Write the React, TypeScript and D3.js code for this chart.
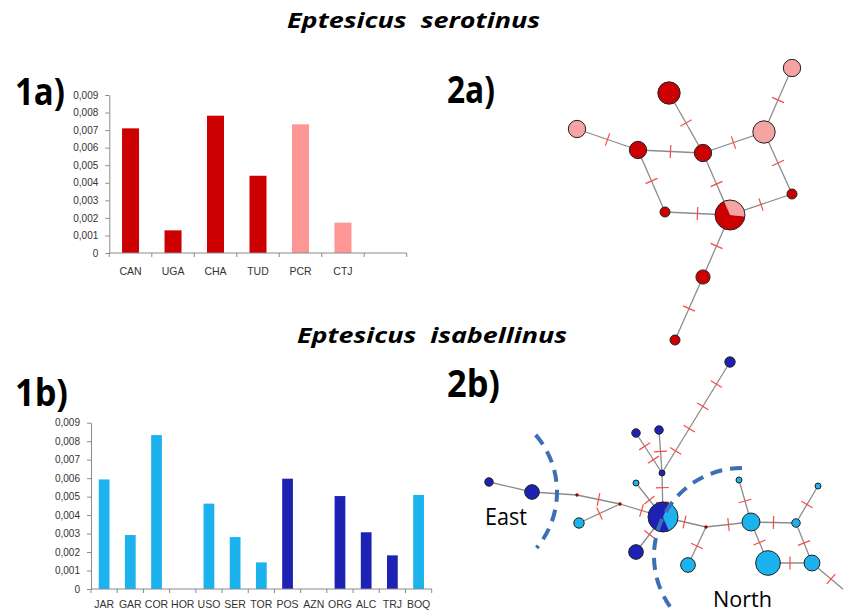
import React, { useEffect, useRef } from 'react';
import * as d3 from 'd3';

// nucleotide diversity per site
const serotinusSites = ['CAN', 'UGA', 'CHA', 'TUD', 'PCR', 'CTJ', ''];
const serotinusDiversity = [0.0071, 0.00129, 0.00782, 0.0044, 0.00733, 0.00173, 0];
const serotinusGroup = ['dark', 'dark', 'dark', 'dark', 'light', 'light', 'none'];

const isabellinusSites = ['JAR', 'GAR', 'COR', 'HOR', 'USO', 'SER', 'TOR', 'POS', 'AZN', 'ORG', 'ALC', 'TRJ', 'BOQ'];
const isabellinusDiversity = [0.00593, 0.00292, 0.00833, 0, 0.00462, 0.00281, 0.00144, 0.00597, 0, 0.00503, 0.00307, 0.00182, 0.00509];
const isabellinusGroup = ['light', 'light', 'light', 'light', 'light', 'light', 'light', 'dark', 'dark', 'dark', 'dark', 'dark', 'light'];

const yTicks = [0, 0.001, 0.002, 0.003, 0.004, 0.005, 0.006, 0.007, 0.008, 0.009];

// haplotype networks: layout units, haplotype counts (dark / light group)
const serotinusNodes = [
  { id: 'A', x: 252, y: 18, dark: 0, light: 3 },
  { id: 'B', x: 129, y: 43, dark: 5, light: 0 },
  { id: 'C', x: 37, y: 79, dark: 0, light: 3 },
  { id: 'D', x: 224, y: 82, dark: 0, light: 5 },
  { id: 'E', x: 98, y: 100, dark: 3, light: 0 },
  { id: 'F', x: 163, y: 103, dark: 3, light: 0 },
  { id: 'G', x: 125, y: 162, dark: 1, light: 0 },
  { id: 'H', x: 252, y: 144, dark: 1, light: 0 },
  { id: 'P', x: 190, y: 165, dark: 6, light: 3 },
  { id: 'L', x: 163, y: 227, dark: 2, light: 0 },
  { id: 'M', x: 135, y: 290, dark: 1, light: 0 },
];
// [from, to, mutation steps]
const serotinusEdges: [string, string, number][] = [
  ['A', 'D', 1], ['B', 'F', 1], ['C', 'E', 1], ['E', 'F', 1], ['F', 'D', 1], ['E', 'G', 1],
  ['F', 'P', 1], ['D', 'H', 1], ['G', 'P', 1], ['P', 'H', 1], ['P', 'L', 1], ['L', 'M', 1],
];

const isabellinusNodes = [
  { id: 'a', x: 260, y: 12, dark: 3, light: 0 },
  { id: 'b', x: 166, y: 83, dark: 2, light: 0 },
  { id: 'c', x: 189, y: 80, dark: 2, light: 0 },
  { id: 'd', x: 192, y: 123, dark: 1, light: 0 },
  { id: 'e', x: 166, y: 133, dark: 0, light: 1 },
  { id: 'f', x: 19, y: 132, dark: 2, light: 0 },
  { id: 'g', x: 62, y: 142, dark: 6, light: 0 },
  { id: 'm1', x: 107, y: 145, dark: 0, light: 0 },
  { id: 'm2', x: 150, y: 154, dark: 0, light: 0 },
  { id: 'h', x: 109, y: 173, dark: 0, light: 3 },
  { id: 'P', x: 193, y: 167, dark: 16, light: 9 },
  { id: 'i', x: 166, y: 202, dark: 6, light: 0 },
  { id: 'm3', x: 236, y: 177, dark: 0, light: 0 },
  { id: 'j', x: 218, y: 215, dark: 0, light: 6 },
  { id: 'k', x: 281, y: 172, dark: 0, light: 9 },
  { id: 'l', x: 269, y: 130, dark: 0, light: 1 },
  { id: 'n', x: 326, y: 173, dark: 0, light: 2 },
  { id: 'o', x: 348, y: 136, dark: 0, light: 1 },
  { id: 'q', x: 298, y: 213, dark: 0, light: 17 },
  { id: 'r', x: 342, y: 213, dark: 0, light: 7 },
  { id: 's', x: 380, y: 245, dark: 0, light: 1 },
];
const isabellinusEdges: [string, string, number][] = [
  ['f', 'g', 0], ['g', 'm1', 0], ['m1', 'm2', 1], ['h', 'm2', 1], ['m2', 'P', 1],
  ['e', 'P', 1], ['d', 'P', 2], ['b', 'd', 2], ['c', 'd', 1], ['a', 'd', 4],
  ['i', 'P', 1], ['P', 'm3', 1], ['m3', 'j', 1], ['m3', 'k', 1], ['k', 'l', 1],
  ['k', 'n', 1], ['n', 'o', 1], ['n', 'r', 1], ['k', 'q', 1], ['q', 'r', 1], ['r', 's', 1],
];

const W = 843;
const H = 614;
const FONT = 'Liberation Sans, Arial, sans-serif';
const TITLE_FONT = 'Open Sans, Liberation Sans, sans-serif';

type Node = { id: string; x: number; y: number; dark: number; light: number };

const fmt = (d: number) => (d === 0 ? '0' : d3.format('.3f')(d).replace('.', ','));

function drawBars(
  svg: d3.Selection<SVGSVGElement, unknown, null, undefined>,
  sites: string[],
  values: number[],
  groups: string[],
  colors: Record<string, string>,
  box: { left: number; right: number; top: number; bottom: number; barFrac: number; labelY: number; fs: number }
) {
  const g = svg.append('g');
  const x = d3
    .scaleBand<number>()
    .domain(sites.map((_, i) => i))
    .range([box.left, box.right])
    .padding(0);
  const y = d3.scaleLinear().domain([0, 0.009]).range([box.bottom, box.top]);
  const bw = x.bandwidth() * box.barFrac;

  g.selectAll('rect.bar')
    .data(values)
    .enter()
    .append('rect')
    .attr('class', 'bar')
    .attr('x', (_, i) => (x(i) || 0) + (x.bandwidth() - bw) / 2)
    .attr('y', (d) => y(d))
    .attr('width', bw)
    .attr('height', (d) => box.bottom - y(d))
    .attr('fill', (_, i) => colors[groups[i]] || 'none');

  const ya = g
    .append('g')
    .attr('transform', `translate(${box.left},0)`)
    .call(d3.axisLeft(y).tickValues(yTicks).tickSize(4).tickSizeOuter(0).tickPadding(7).tickFormat((d) => fmt(+d)));
  ya.attr('font-family', FONT).attr('font-size', 10);
  ya.selectAll('line,path').attr('stroke', '#8a8a8a');
  ya.selectAll('text').attr('fill', '#333');

  // category axis: boundary ticks pointing down
  g.append('line')
    .attr('x1', box.left)
    .attr('x2', box.right)
    .attr('y1', box.bottom)
    .attr('y2', box.bottom)
    .attr('stroke', '#8a8a8a');
  const bounds = sites.map((_, i) => x(i) || 0).concat([box.right]);
  g.selectAll('line.xt')
    .data(bounds)
    .enter()
    .append('line')
    .attr('class', 'xt')
    .attr('x1', (d) => d)
    .attr('x2', (d) => d)
    .attr('y1', box.bottom)
    .attr('y2', box.bottom + 4)
    .attr('stroke', '#8a8a8a');
  g.selectAll('text.xl')
    .data(sites)
    .enter()
    .append('text')
    .attr('class', 'xl')
    .attr('x', (_, i) => (x(i) || 0) + x.bandwidth() / 2)
    .attr('y', box.labelY)
    .attr('text-anchor', 'middle')
    .attr('font-family', FONT)
    .attr('font-size', box.fs)
    .attr('fill', '#333')
    .text((d) => d);
}

function drawNetwork(
  svg: d3.Selection<SVGSVGElement, unknown, null, undefined>,
  nodes: Node[],
  edges: [string, string, number][],
  colors: { dark: string; light: string; median: string },
  sx: d3.ScaleLinear<number, number>,
  sy: d3.ScaleLinear<number, number>,
  rScale: d3.ScalePower<number, number>,
  pieStart: number
) {
  const byId = new Map(nodes.map((n) => [n.id, n]));
  const eg = svg.append('g');
  const tg = svg.append('g');
  edges.forEach(([a, b, steps]) => {
    const p = byId.get(a)!;
    const q = byId.get(b)!;
    const x1 = sx(p.x), y1 = sy(p.y), x2 = sx(q.x), y2 = sy(q.y);
    eg.append('line')
      .attr('x1', x1).attr('y1', y1).attr('x2', x2).attr('y2', y2)
      .attr('stroke', '#8c8c8c').attr('stroke-width', 1.3);
    const dx = x2 - x1, dy = y2 - y1;
    const len = Math.hypot(dx, dy);
    const ux = -dy / len, uy = dx / len;
    for (let i = 1; i <= steps; i++) {
      const t = i / (steps + 1);
      const cx = x1 + dx * t, cy = y1 + dy * t;
      tg.append('line')
        .attr('x1', cx - ux * 6.5).attr('y1', cy - uy * 6.5)
        .attr('x2', cx + ux * 6.5).attr('y2', cy + uy * 6.5)
        .attr('stroke', '#ff4646').attr('stroke-width', 1.2);
    }
  });

  const ng = svg.append('g');
  nodes.forEach((n) => {
    const total = n.dark + n.light;
    const cx = sx(n.x), cy = sy(n.y);
    if (total === 0) {
      ng.append('circle').attr('cx', cx).attr('cy', cy).attr('r', 1.7).attr('fill', colors.median);
      return;
    }
    const r = rScale(total);
    if (n.dark === 0 || n.light === 0) {
      ng.append('circle')
        .attr('cx', cx).attr('cy', cy).attr('r', r)
        .attr('fill', n.dark > 0 ? colors.dark : colors.light)
        .attr('stroke', '#222').attr('stroke-width', 1);
      return;
    }
    const pie = d3.pie<number>().sort(null).startAngle(pieStart).endAngle(pieStart + 2 * Math.PI);
    const arc = d3.arc<d3.PieArcDatum<number>>().innerRadius(0).outerRadius(r);
    const pg = ng.append('g').attr('transform', `translate(${cx},${cy})`);
    pg.selectAll('path')
      .data(pie([n.light, n.dark]))
      .enter()
      .append('path')
      .attr('d', arc)
      .attr('fill', (_, i) => (i === 0 ? colors.light : colors.dark));
    pg.append('circle').attr('r', r).attr('fill', 'none').attr('stroke', '#222').attr('stroke-width', 1);
  });
}

export default function App() {
  const svgRef = useRef<SVGSVGElement>(null);

  useEffect(() => {
    if (!svgRef.current) return;
    const svg = d3.select(svgRef.current);
    svg.selectAll('*').remove();

    const addText = (txt: string, x: number, y: number, size: number, len: number, weight: string, style: string, family: string) =>
      svg
        .append('text')
        .attr('x', x)
        .attr('y', y)
        .attr('font-family', family)
        .attr('font-size', size)
        .attr('font-weight', weight)
        .attr('font-style', style)
        .attr('textLength', len)
        .attr('lengthAdjust', 'spacingAndGlyphs')
        .style('white-space', 'pre')
        .attr('fill', '#000')
        .text(txt);

    addText('Eptesicus  serotinus', 287, 28, 21, 253, 'bold', 'italic', TITLE_FONT);
    addText('Eptesicus  isabellinus', 297, 343, 21, 270, 'bold', 'italic', TITLE_FONT);
    addText('1a)', 15, 105, 38, 50, 'bold', 'normal', TITLE_FONT);
    addText('2a)', 447, 103, 38, 48, 'bold', 'normal', TITLE_FONT);
    addText('1b)', 15, 406, 37, 53, 'bold', 'normal', TITLE_FONT);
    addText('2b)', 447, 397, 38, 53, 'bold', 'normal', TITLE_FONT);

    drawBars(svg, serotinusSites, serotinusDiversity, serotinusGroup, { dark: '#cc0000', light: '#ff9696' }, {
      left: 109.3, right: 406.7, top: 95, bottom: 253, barFrac: 0.4, labelY: 275, fs: 10.5,
    });
    drawBars(svg, isabellinusSites, isabellinusDiversity, isabellinusGroup, { dark: '#1e22b4', light: '#1cb2ee' }, {
      left: 91, right: 431.7, top: 422.7, bottom: 589, barFrac: 0.41, labelY: 608, fs: 10.5,
    });

    // network 2a
    const sxA = d3.scaleLinear().domain([0, 300]).range([540, 840]);
    const syA = d3.scaleLinear().domain([0, 300]).range([50, 350]);
    drawNetwork(svg, serotinusNodes, serotinusEdges, { dark: '#cc0000', light: '#f5a3a3', median: '#b00000' },
      sxA, syA, d3.scaleSqrt().domain([0, 9]).range([0, 15]), (-24 * Math.PI) / 180);

    // network 2b
    const sxB = d3.scaleLinear().domain([0, 300]).range([470, 770]);
    const syB = d3.scaleLinear().domain([0, 300]).range([350, 650]);
    drawNetwork(svg, isabellinusNodes, isabellinusEdges, { dark: '#1e22b4', light: '#1cb2ee', median: '#a00000' },
      sxB, syB, d3.scaleSqrt().domain([0, 25]).range([0, 15]), (26 * Math.PI) / 180);

    // regional boundaries (dashed arcs)
    const east = d3.path();
    const eR = sxB(87) - sxB(0);
    east.arc(sxB(0), syB(142), eR, (-41 * Math.PI) / 180, (40 * Math.PI) / 180, false);
    const north = d3.path();
    const nR = sxB(88) - sxB(0);
    north.arc(sxB(272), syB(206), nR, -Math.PI / 2, (143 * Math.PI) / 180, true);
    [east, north].forEach((p) =>
      svg
        .append('path')
        .attr('d', p.toString())
        .attr('fill', 'none')
        .attr('stroke', '#3b6fb6')
        .attr('stroke-width', 4)
        .attr('stroke-dasharray', '12 8')
    );

    addText('East', 485, 525, 24, 42, 'normal', 'normal', TITLE_FONT);
    addText('North', 713, 607, 22, 59, 'normal', 'normal', TITLE_FONT);
  }, []);

  return (
    <svg
      ref={svgRef}
      width={W}
      height={H}
      style={{ position: 'absolute', left: 0, top: 0, background: '#fff' }}
    />
  );
}
